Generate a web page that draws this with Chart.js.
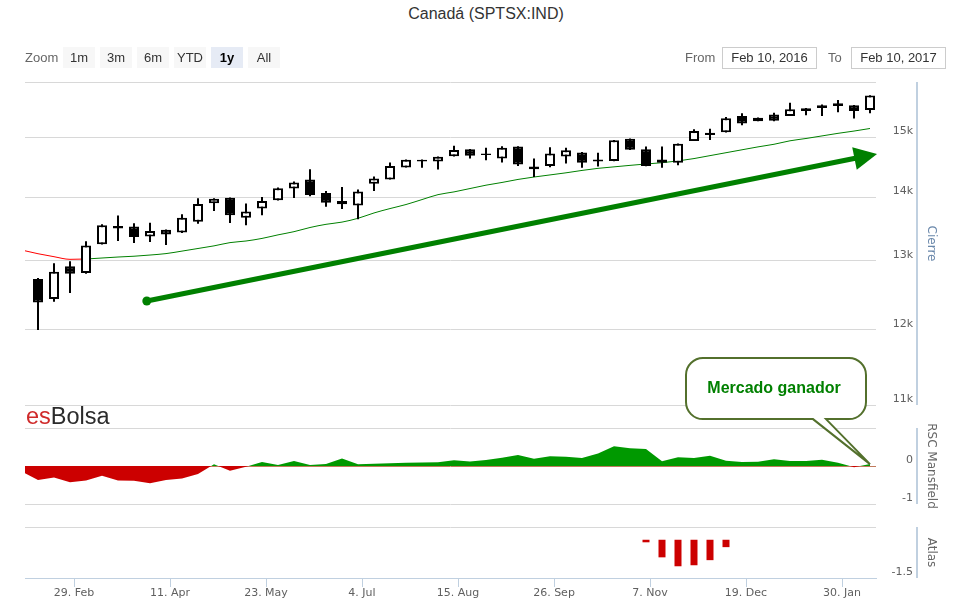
<!DOCTYPE html>
<html>
<head>
<meta charset="utf-8">
<script src="https://cdn.jsdelivr.net/npm/chart.js@4.4.0/dist/chart.umd.min.js"></script>
<style>
html,body{margin:0;padding:0;background:#fff;}
#wrap{position:relative;width:958px;height:609px;overflow:hidden;font-family:'Liberation Sans',Arial,sans-serif;}
canvas{position:absolute;left:0;}
.title{position:absolute;left:0;width:972px;top:5px;text-align:center;font-size:16px;line-height:18px;color:#333;}
.lbl{position:absolute;top:47px;height:21px;line-height:21px;font-size:13px;color:#666;}
.btn{position:absolute;top:47px;width:32px;height:21px;line-height:21px;text-align:center;font-size:13px;color:#333;background:#f7f7f7;}
.btn.sel{background:#e6ebf5;font-weight:bold;color:#000;}
.date{position:absolute;top:47px;width:95px;height:22px;box-sizing:border-box;border:1px solid #ccc;line-height:20px;text-align:center;font-size:13px;color:#333;background:#fff;}
.logo{position:absolute;left:26px;top:405px;font-size:23.5px;line-height:23px;color:#2b2b2b;z-index:5;}
.logo span{color:#cf2a2a;}
</style>
</head>
<body>
<div id="wrap">
  <canvas id="cMain" width="958" height="360" style="top:62px;width:958px;height:360px"></canvas>
  <canvas id="cRsc" width="958" height="180" style="top:340px;width:958px;height:180px"></canvas>
  <canvas id="cAtlas" width="958" height="99" style="top:510px;width:958px;height:99px"></canvas>
  <div class="title">Canadá (SPTSX:IND)</div>
  <div class="lbl" style="left:25px">Zoom</div>
  <div class="btn" style="left:63px">1m</div>
  <div class="btn" style="left:100px">3m</div>
  <div class="btn" style="left:137px">6m</div>
  <div class="btn" style="left:174px">YTD</div>
  <div class="btn sel" style="left:211px">1y</div>
  <div class="btn" style="left:248px">All</div>
  <div class="lbl" style="left:685px">From</div>
  <div class="date" style="left:722px">Feb 10, 2016</div>
  <div class="lbl" style="left:828px">To</div>
  <div class="date" style="left:851px">Feb 10, 2017</div>
  <div class="logo"><span>es</span>Bolsa</div>
</div>
<script>
// ---- data (weekly candles, week index 0..52) ----
const candleOpen  = [12730,12440,12920,12820,13255,13540,13530,13375,13480,13435,13605,13900,13990,13670,13815,13950,14140,14290,14065,13935,13865,14220,14290,14490,14620,14590,14680,14800,14725,14640,14845,14505,14515,14675,14745,14625,14600,14980,14800,14625,14570,14940,15085,15095,15380,15290,15410,15380,15520,15525,15560,15575,15490];
const candleHigh  = [12745,12965,12995,13300,13565,13705,13580,13590,13485,13725,13980,13980,13995,13895,14000,14155,14255,14460,14100,14165,14125,14340,14575,14625,14625,14675,14860,14805,14825,14850,14850,14640,14835,14825,14750,14740,14960,14985,14845,14845,14900,15145,15155,15365,15430,15355,15440,15620,15525,15590,15670,15580,15755];
const candleLow   = [12000,12400,12525,12810,13250,13305,13275,13290,13245,13430,13575,13775,13585,13550,13710,13945,13985,14015,13845,13810,13645,14100,14290,14490,14485,14455,14675,14640,14610,14575,14515,14330,14495,14555,14485,14505,14595,14785,14510,14485,14525,14940,14960,15090,15215,15290,15290,15380,15395,15380,15450,15335,15430];
const candleClose = [12390,12840,12810,13235,13550,13500,13365,13460,13405,13670,13890,13975,13710,13770,13935,14145,14240,14035,13910,13885,14090,14305,14515,14620,14590,14670,14785,14690,14700,14825,14540,14460,14725,14780,14570,14590,14955,14790,14515,14570,14895,15115,15045,15340,15250,15350,15295,15500,15470,15575,15610,15470,15750];
// moving average and RSC Mansfield: week index -1..52
const maValues  = [13165,13110,13065,13025,13030,13045,13060,13072,13090,13112,13150,13190,13230,13280,13305,13345,13400,13450,13515,13565,13600,13660,13745,13815,13880,13960,14040,14085,14140,14195,14240,14290,14330,14365,14400,14440,14475,14500,14525,14548,14570,14600,14640,14690,14740,14790,14840,14885,14945,14985,15030,15075,15115,15160];
const rscValues = [-0.151,-0.368,-0.30,-0.43,-0.38,-0.255,-0.38,-0.39,-0.455,-0.37,-0.33,-0.21,0.045,-0.125,-0.02,0.105,0.026,0.13,0.026,0.05,0.20,0.045,0.06,0.07,0.087,0.09,0.10,0.15,0.12,0.16,0.22,0.29,0.19,0.255,0.245,0.21,0.33,0.52,0.465,0.45,0.125,0.23,0.21,0.27,0.14,0.105,0.11,0.175,0.13,0.13,0.165,0.087,-0.03,0.05];
const atlasWeeks  = [38,39,40,41,42,43];
const atlasValues = [-0.1,-0.69,-1.04,-1.0,-0.8,-0.29];
const tickWeeks  = [2.25,8.25,14.25,20.25,26.25,32.25,38.25,44.25,50.25];
const tickLabels = ['29. Feb','11. Apr','23. May','4. Jul','15. Aug','26. Sep','7. Nov','19. Dec','30. Jan'];
const maCrossWeek = 3;            // MA line is red before this week
const arrowFrom = [6.8, 12410];   // trend arrow (week, value)
const arrowTo   = [52.44, 14720];

// ---- derived ----
const weeks = candleOpen.map((_, i) => i);
const bodyData = weeks.map(i => ({x: i, y: [candleOpen[i], candleClose[i]]}));
const wickData = weeks.map(i => ({x: i, y: [candleLow[i], candleHigh[i]]}));
const bodyColors = weeks.map(i => candleClose[i] >= candleOpen[i] ? '#ffffff' : '#000000');
const maData = maValues.map((v, i) => ({x: i - 1, y: v}));
const rscData = rscValues.map((v, i) => ({x: i - 1, y: v}));
const atlasData = atlasWeeks.map((w, i) => ({x: w, y: atlasValues[i]}));

const X_MIN = -0.8125, X_MAX = 52.375;
const GRID = '#d8d8d8', AXIS = '#C0D0E0', LBL = '#606060';

Chart.defaults.font.family = "'DejaVu Sans', Verdana, sans-serif";
Chart.defaults.font.size = 11;
Chart.defaults.color = LBL;

const panelDecor = {
  id: 'panelDecor',
  afterDraw(chart, args, opts) {
    const {ctx, chartArea: a} = chart;
    ctx.save();
    ctx.strokeStyle = AXIS; ctx.lineWidth = 2;
    ctx.beginPath(); ctx.moveTo(a.right + 41, a.top); ctx.lineTo(a.right + 41, a.bottom); ctx.stroke();
    ctx.translate(a.right + 55, (a.top + a.bottom) / 2);
    ctx.rotate(Math.PI / 2);
    ctx.fillStyle = opts.color || '#666';
    ctx.font = "12px 'DejaVu Sans', Verdana, sans-serif";
    ctx.textAlign = 'center'; ctx.textBaseline = 'middle';
    ctx.fillText(opts.text, 0, 0);
    ctx.restore();
  }
};

const arrowPlugin = {
  id: 'trendArrow',
  afterDatasetsDraw(chart) {
    const {ctx, scales: {x, y}} = chart;
    const x0 = x.getPixelForValue(arrowFrom[0]), y0 = y.getPixelForValue(arrowFrom[1]);
    const x1 = x.getPixelForValue(arrowTo[0]), y1 = y.getPixelForValue(arrowTo[1]);
    const len = Math.hypot(x1 - x0, y1 - y0), ux = (x1 - x0) / len, uy = (y1 - y0) / len;
    const hl = 23, hw = 11.5;
    const bx = x1 - ux * hl, by = y1 - uy * hl;
    ctx.save();
    ctx.strokeStyle = '#008000'; ctx.fillStyle = '#008000'; ctx.lineWidth = 5;
    ctx.beginPath(); ctx.moveTo(x0, y0); ctx.lineTo(bx + ux * 2, by + uy * 2); ctx.stroke();
    ctx.beginPath(); ctx.arc(x0, y0, 4.5, 0, Math.PI * 2); ctx.fill();
    ctx.beginPath();
    ctx.moveTo(x1, y1);
    ctx.lineTo(bx - uy * hw, by + ux * hw);
    ctx.lineTo(bx + uy * hw, by - ux * hw);
    ctx.closePath(); ctx.fill();
    ctx.restore();
  }
};

const calloutPlugin = {
  id: 'callout',
  afterDraw(chart) {
    const {ctx} = chart;
    const meta = chart.getDatasetMeta(0);
    const pt = meta.data[meta.data.length - 1];
    const tx = pt.x, ty = pt.y;
    const L = tx - 184, R = tx - 4, T = ty - 106, B = ty - 45, r = 17;
    ctx.save();
    ctx.beginPath();
    ctx.moveTo(L + r, T);
    ctx.lineTo(R - r, T);
    ctx.arcTo(R, T, R, T + r, r);
    ctx.lineTo(R, B - r);
    ctx.arcTo(R, B, R - r, B, r);
    ctx.lineTo(tx - 44, B);
    ctx.lineTo(tx, ty);
    ctx.lineTo(tx - 57, B);
    ctx.lineTo(L + r, B);
    ctx.arcTo(L, B, L, B - r, r);
    ctx.lineTo(L, T + r);
    ctx.arcTo(L, T, L + r, T, r);
    ctx.closePath();
    ctx.fillStyle = '#ffffff'; ctx.fill();
    ctx.strokeStyle = '#53702c'; ctx.lineWidth = 2; ctx.stroke();
    ctx.fillStyle = '#008000';
    ctx.font = "bold 16px 'Liberation Sans', Arial, sans-serif";
    ctx.textAlign = 'center'; ctx.textBaseline = 'middle';
    ctx.fillText('Mercado ganador', tx - 96, ty - 76);
    ctx.restore();
  }
};

const hiddenX = {type: 'linear', min: X_MIN, max: X_MAX, display: false, offset: false, grid: {offset: false}};
function yBase(extra) {
  return Object.assign({
    position: 'right',
    border: {display: false},
    grid: {color: GRID, drawTicks: false, lineWidth: 1},
    afterFit: s => { s.width = 37; }
  }, extra);
}
const yTicks = {crossAlign: 'far', labelOffset: -6, color: LBL, padding: 0};

// ---- main panel ----
new Chart(document.getElementById('cMain'), {
  type: 'bar',
  data: {
    datasets: [
      {type: 'line', data: maData, borderWidth: 1, pointRadius: 0, cubicInterpolationMode: 'monotone', order: 2,
       borderColor: '#008000',
       segment: {borderColor: c => maData[c.p0DataIndex].x < maCrossWeek ? '#ff0000' : '#008000'}},
      {data: wickData, backgroundColor: '#000000', borderWidth: 0, barThickness: 2, grouped: false, order: 1, inflateAmount: 0},
      {data: bodyData, backgroundColor: bodyColors, borderColor: '#000000', borderWidth: 2, borderSkipped: false,
       barThickness: 10, grouped: false, order: 0, inflateAmount: 0}
    ]
  },
  options: {
    responsive: false, animation: false, events: [],
    layout: {padding: {left: 25, right: 45, top: 20, bottom: 17}},
    plugins: {legend: {display: false}, tooltip: {enabled: false}, panelDecor: {text: 'Cierre', color: '#6a88ab'}},
    scales: {
      x: hiddenX,
      y: yBase({type: 'logarithmic', min: 11000, max: 16000, bounds: 'data',
        afterBuildTicks: s => { s.ticks = [11000, 12000, 13000, 14000, 15000, 16000].map(v => ({value: v})); },
        ticks: Object.assign({}, yTicks, {callback: v => v === 16000 ? '' : (v / 1000) + 'k'})})
    }
  },
  plugins: [panelDecor, arrowPlugin]
});

// ---- RSC Mansfield panel ----
new Chart(document.getElementById('cRsc'), {
  type: 'line',
  data: {
    datasets: [{data: rscData, borderWidth: 0, borderColor: 'rgba(0,0,0,0)', pointRadius: 0, tension: 0,
      fill: {target: {value: 0}, above: '#009900', below: '#CC0000'}}]
  },
  options: {
    responsive: false, animation: false, events: [],
    layout: {padding: {left: 25, right: 45, top: 88, bottom: 16}},
    plugins: {legend: {display: false}, tooltip: {enabled: false}, panelDecor: {text: 'RSC Mansfield', color: '#666'}},
    scales: {
      x: hiddenX,
      y: yBase({type: 'linear', min: -1, max: 1,
        afterBuildTicks: s => { s.ticks = [-1, 0, 1].map(v => ({value: v})); },
        grid: {drawTicks: false, color: c => c.tick && c.tick.value === 0 ? '#c07a5c' : GRID},
        ticks: Object.assign({}, yTicks, {callback: v => v === 1 ? '' : String(v)})})
    }
  },
  plugins: [panelDecor, calloutPlugin]
});

// ---- Atlas panel + date axis ----
new Chart(document.getElementById('cAtlas'), {
  type: 'bar',
  data: {datasets: [{data: atlasData, backgroundColor: '#CC0000', borderWidth: 0, barThickness: 7, grouped: false, inflateAmount: 0}]},
  options: {
    responsive: false, animation: false, events: [],
    layout: {padding: {left: 25, right: 45, top: 17, bottom: 0}},
    plugins: {legend: {display: false}, tooltip: {enabled: false}, panelDecor: {text: 'Atlas', color: '#666'}},
    scales: {
      x: {type: 'linear', min: X_MIN, max: X_MAX, offset: false,
        afterBuildTicks: s => { s.ticks = tickWeeks.map(v => ({value: v})); },
        afterFit: s => { s.height = 31; },
        border: {display: true, color: AXIS, width: 1},
        grid: {drawOnChartArea: false, drawTicks: true, tickLength: 9, color: AXIS, tickColor: AXIS, offset: false},
        ticks: {autoSkip: false, maxRotation: 0, minRotation: 0, padding: 0, color: LBL,
          callback: (v, i) => tickLabels[i]}},
      y: yBase({type: 'linear', min: -1.5, max: 0.5,
        afterBuildTicks: s => { s.ticks = [-1.5, 0.5].map(v => ({value: v})); },
        grid: {drawTicks: false, color: c => c.tick && c.tick.value === -1.5 ? AXIS : GRID},
        ticks: Object.assign({}, yTicks, {callback: v => v === 0.5 ? '' : String(v)})})
    }
  },
  plugins: [panelDecor]
});
</script>
</body>
</html>
